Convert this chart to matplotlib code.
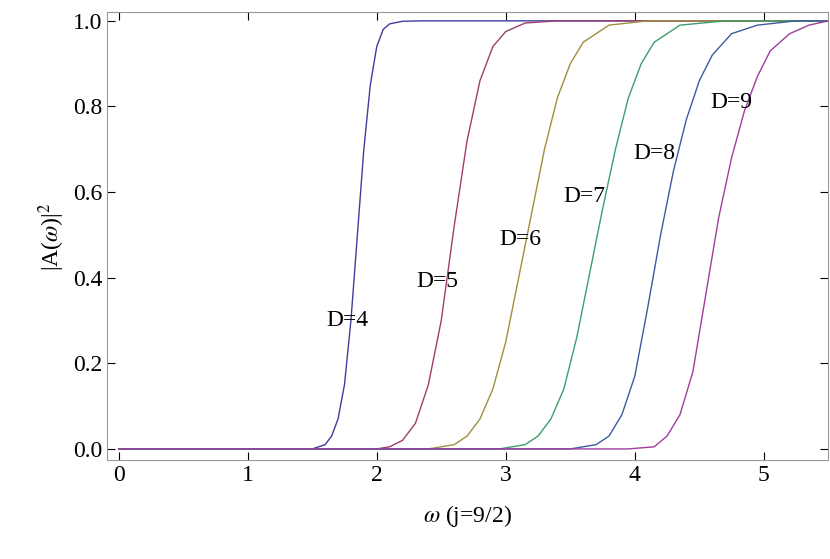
import matplotlib.pyplot as plt

plt.rcParams['font.family'] = ['Liberation Serif', 'DejaVu Serif']
plt.rcParams['mathtext.fontset'] = 'stix'

# curves
x4 = [0, 1.5, 1.6, 1.65, 1.7, 1.75, 1.8, 1.85, 1.9, 1.95, 2.0, 2.05, 2.1, 2.2, 2.35, 5.5]
y4 = [0, 0, 0.01, 0.03, 0.07, 0.15, 0.3, 0.5, 0.7, 0.85, 0.94, 0.98, 0.993, 0.999, 1, 1]
x5 = [0, 2.0, 2.1, 2.2, 2.3, 2.4, 2.5, 2.6, 2.7, 2.8, 2.9, 3.0, 3.15, 3.4, 5.5]
y5 = [0, 0, 0.005, 0.02, 0.06, 0.15, 0.3, 0.52, 0.72, 0.86, 0.94, 0.975, 0.995, 1, 1]
x6 = [0, 2.4, 2.6, 2.7, 2.8, 2.9, 3.0, 3.1, 3.2, 3.3, 3.4, 3.5, 3.6, 3.8, 4.1, 5.5]
y6 = [0, 0, 0.01, 0.03, 0.07, 0.14, 0.25, 0.4, 0.55, 0.7, 0.82, 0.9, 0.95, 0.99, 1, 1]
x7 = [0, 2.95, 3.15, 3.25, 3.35, 3.45, 3.55, 3.65, 3.75, 3.85, 3.95, 4.05, 4.15, 4.35, 4.7, 5.5]
y7 = [0, 0, 0.01, 0.03, 0.07, 0.14, 0.26, 0.41, 0.56, 0.7, 0.82, 0.9, 0.95, 0.99, 1, 1]
x8 = [0, 3.5, 3.7, 3.8, 3.9, 4.0, 4.1, 4.2, 4.3, 4.4, 4.5, 4.6, 4.75, 4.95, 5.25, 5.5]
y8 = [0, 0, 0.01, 0.03, 0.08, 0.17, 0.33, 0.5, 0.65, 0.77, 0.86, 0.92, 0.97, 0.99, 1, 1]
x9 = [0, 3.95, 4.15, 4.25, 4.35, 4.45, 4.55, 4.65, 4.75, 4.85, 4.95, 5.05, 5.2, 5.35, 5.5]
y9 = [0, 0, 0.005, 0.03, 0.08, 0.18, 0.36, 0.54, 0.68, 0.79, 0.87, 0.93, 0.97, 0.99, 1]

curves = [(x4, y4), (x5, y5), (x6, y6), (x7, y7), (x8, y8), (x9, y9)]
names = ['D=4', 'D=5', 'D=6', 'D=7', 'D=8', 'D=9']
label_x = [1.77, 2.47, 3.11, 3.61, 4.15, 4.75]
label_y = [0.30, 0.39, 0.49, 0.59, 0.69, 0.81]
colors = ['#3d3d9e', '#9e3d70', '#9e8f3d', '#3d9e6a', '#3d5a9e', '#9e3d9e']

fig, ax = plt.subplots(figsize=(8.3, 5.59), dpi=100)
fig.subplots_adjust(left=0.129, right=0.998, top=0.978, bottom=0.177)

for (x, y), c in zip(curves, colors):
    ax.plot(x, y, color=c, lw=1)
for n, lx, ly in zip(names, label_x, label_y):
    ax.text(lx, ly, n, fontsize=17, ha='center', va='center')

ax.set_xlim(-0.09, 5.5)
ax.set_ylim(-0.026, 1.02)
ax.set_xticks([0, 1, 2, 3, 4, 5])
ax.set_yticks([0, 0.2, 0.4, 0.6, 0.8, 1.0])
ax.set_yticklabels(['0.0', '0.2', '0.4', '0.6', '0.8', '1.0'])
ax.tick_params(direction='in', top=True, right=True, labelsize=17, length=6)
for s in ax.spines.values():
    s.set_color('#999999')
ax.set_xlabel(r'$\omega$ (j=9/2)', fontsize=17, labelpad=12)
ax.set_ylabel(r'|A($\omega$)|$^2$', fontsize=17)

plt.savefig('out.png')
